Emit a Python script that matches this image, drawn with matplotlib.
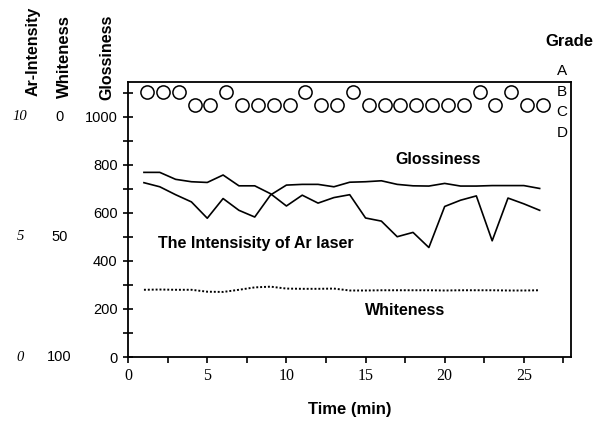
import numpy as np
import matplotlib.pyplot as plt
from matplotlib.ticker import MultipleLocator

plt.rcParams['font.family'] = ['Liberation Sans', 'DejaVu Sans']

# time (min)
time = np.arange(1, 27)

# grade: 1=A, 2=B, 3=C, 4=D
grade = [2, 2, 2, 2.65, 2.65, 2, 2.65, 2.65, 2.65, 2.65, 2, 2.65, 2.65, 2,
         2.65, 2.65, 2.65, 2.65, 2.65, 2.65, 2.65, 2, 2.65, 2, 2.65, 2.65]
grade_letters = ['A', 'B', 'C', 'D']

# glossiness (0-1000 scale)
gloss = [726, 709, 676, 646, 578, 660, 611, 583, 675, 716, 719, 719, 709,
         728, 730, 734, 719, 713, 712, 723, 712, 712, 714, 714, 714, 702]

# Ar laser intensity (0-10 scale)
ar_int = [7.69, 7.69, 7.40, 7.30, 7.27, 7.58, 7.13, 7.13, 6.80, 6.29, 6.74,
          6.41, 6.64, 6.76, 5.79, 5.66, 5.01, 5.19, 4.56, 6.27, 6.53, 6.71,
          4.84, 6.62, 6.38, 6.11]

# whiteness (0 at top, 100 at bottom)
white = [72.0, 71.9, 72.0, 72.0, 72.8, 72.9, 72.0, 71.0, 70.7, 71.5, 71.6,
         71.6, 71.5, 72.3, 72.3, 72.2, 72.2, 72.2, 72.2, 72.3, 72.2, 72.2,
         72.2, 72.3, 72.3, 72.2]

int_ticks = [10, 5, 0]
white_ticks = [0, 50, 100]

def grade_y(g):
    return 1190 - (np.asarray(g) - 1) * 85

fig = plt.figure(figsize=(6.13, 4.21), dpi=100)
ax = fig.add_axes([0.209, 0.152, 0.723, 0.653])

ax.plot(time + 0.2, grade_y(grade), 'o', mfc='white', mec='black', ms=9.5, mew=1.1)
ax.plot(time, gloss, color='black', lw=1.2)
ax.plot(time, np.array(ar_int) * 100, color='black', lw=1.2)
ax.plot(time, (100 - np.array(white)) * 10, color='black', lw=1.4,
        linestyle=(0, (1, 1)))

ax.set_xlim(0, 28)
ax.set_ylim(0, 1145)
ax.xaxis.set_minor_locator(MultipleLocator(2.5))
ax.set_xticks([0, 5, 10, 15, 20, 25])
ax.yaxis.set_minor_locator(MultipleLocator(100))
ax.set_yticks([0, 200, 400, 600, 800, 1000])
ax.tick_params(axis='x', which='both', direction='out', length=4, width=1.2, pad=4)
ax.tick_params(axis='y', which='both', direction='inout', length=7, width=1.2, pad=4)
for lab in ax.get_xticklabels():
    lab.set_fontfamily('Liberation Serif')
    lab.set_fontsize(11.5)
for lab in ax.get_yticklabels():
    lab.set_fontsize(10.5)
for sp in ax.spines.values():
    sp.set_linewidth(1.3)

ax.set_xlabel('Time (min)', fontsize=12, fontweight='bold', labelpad=13)

# extra left scales
tr = ax.get_yaxis_transform()
for v in int_ticks:
    ax.text(-0.244, v * 100, str(v), transform=tr, ha='center', va='center',
            fontsize=10.5, style='italic', family='Liberation Serif')
for v in white_ticks:
    ax.text(-0.155, (100 - v) * 10, str(v), transform=tr, ha='center',
            va='center', fontsize=10.5)

fig.text(33 / 613, 1 - 96 / 421, 'Ar-Intensity', rotation=90, ha='center',
         va='bottom', fontsize=11.5, fontweight='bold')
fig.text(64 / 613, 1 - 98 / 421, 'Whiteness', rotation=90, ha='center',
         va='bottom', fontsize=12, fontweight='bold')
fig.text(107 / 613, 1 - 100 / 421, 'Glossiness', rotation=90, ha='center',
         va='bottom', fontsize=11.5, fontweight='bold')

# grade scale on the right
fig.text(569 / 613, 1 - 42 / 421, 'Grade', ha='center', va='center',
         fontsize=12, fontweight='bold')
for i, g in enumerate(grade_letters):
    ax.text(27.4, grade_y(i + 1), g, ha='center', va='center', fontsize=11,
            clip_on=False)

ax.text(19.6, 823, 'Glossiness', ha='center', va='center', fontsize=11.5,
        fontweight='bold')
ax.text(1.9, 474, 'The Intensisity of Ar laser', ha='left', va='center',
        fontsize=11.5, fontweight='bold')
ax.text(17.5, 195, 'Whiteness', ha='center', va='center', fontsize=11.5,
        fontweight='bold')

fig.savefig('out.png', dpi=100)
